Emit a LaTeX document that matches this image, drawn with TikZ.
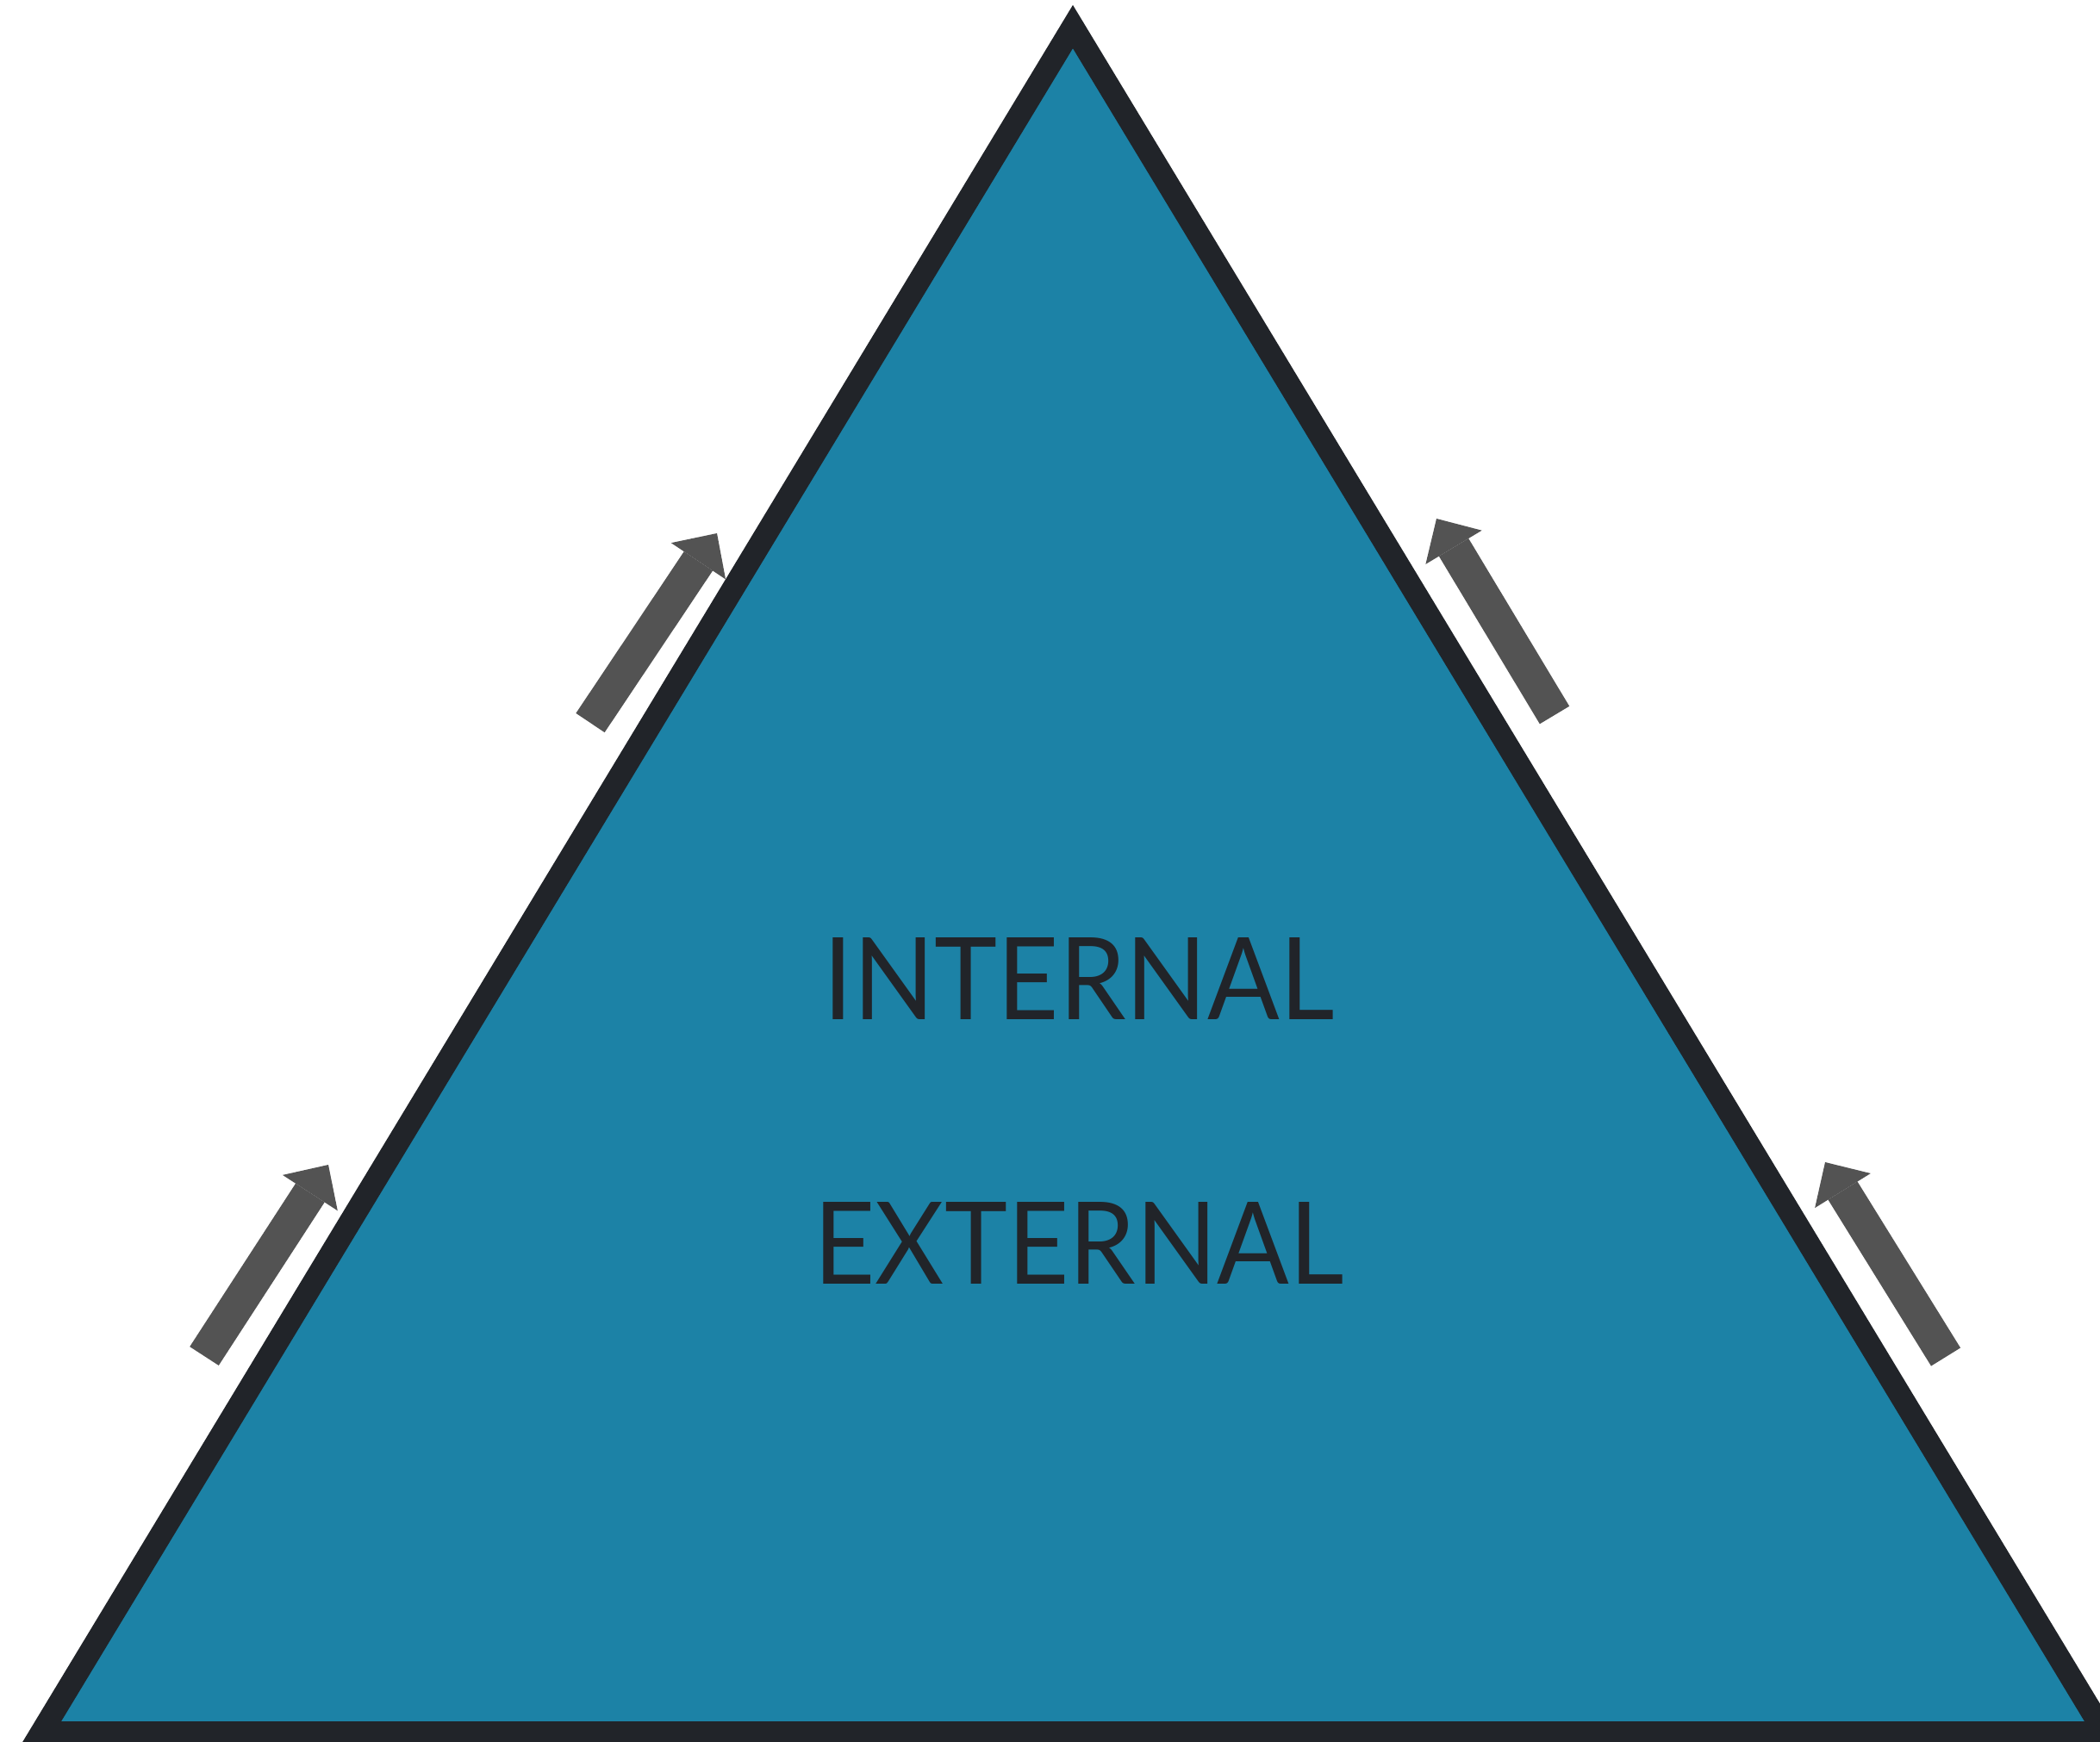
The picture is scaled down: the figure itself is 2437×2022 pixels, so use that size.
\documentclass[tikz,border=0pt]{standalone}
\usepackage{fontspec}
\setmainfont{Lato}
\usetikzlibrary{arrows.meta}
\definecolor{pyramidfill}{HTML}{1C82A6}
\definecolor{pyramidedge}{HTML}{212429}
\definecolor{arrowgrey}{HTML}{535353}
\tikzset{
  uparrow/.style={draw=arrowgrey, line width=0.4cm,
    -{Triangle[length=0.388cm, width=0.76cm, line width=0pt]}},
  levellabel/.style={anchor=base, text=pyramidedge, xscale=0.933,
    font=\fontsize{37.7}{40}\selectfont, inner sep=0pt}
}

\begin{document}
\begin{tikzpicture}[x=0.01cm, y=-0.01cm]
		\useasboundingbox (0,0) rectangle (2437,2022);
		\clip (0,0) rectangle (2437,2022);

		\coordinate (base1)at(48,2011);
		\coordinate (apex)at(1245,31);
		\coordinate (base2)at(2442,2011);
		\draw[fill=pyramidfill, draw=pyramidedge, line width=0.26cm, miter limit=10]
			(base1) -- (apex) -- (base2) -- cycle;

		\node[levellabel] (internal)at(1252,1183) {INTERNAL};
		\node[levellabel] (external)at(1252,1490) {EXTERNAL};

		\coordinate (s1)at(237,1574);
		\coordinate (e1)at(381,1352);
		\coordinate (s2)at(685,839);
		\coordinate (e2)at(832,619);
		\coordinate (s3)at(1804,830);
		\coordinate (e3)at(1667,602);
		\coordinate (s4)at(2258,1575);
		\coordinate (e4)at(2118,1349);

		\draw[uparrow] (s1) -- (e1);
		\draw[uparrow] (s2) -- (e2);
		\draw[uparrow] (s3) -- (e3);
		\draw[uparrow] (s4) -- (e4);

\end{tikzpicture}
\end{document}
